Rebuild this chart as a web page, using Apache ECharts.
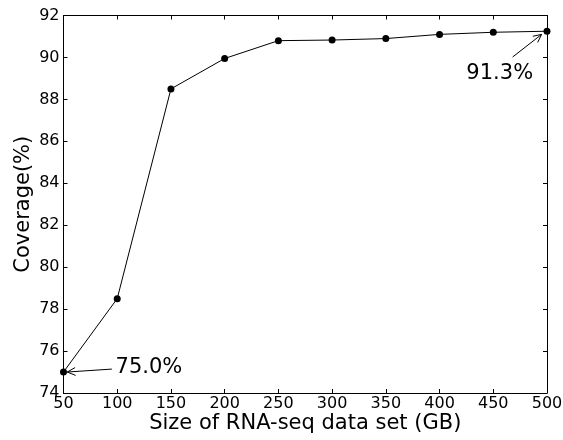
<!DOCTYPE html>
<html>
<head>
<meta charset="utf-8">
<script src="https://cdn.jsdelivr.net/npm/echarts@6/dist/echarts.min.js"></script>
<style>
  html, body { margin: 0; padding: 0; background: #fff; }
  #chart { width: 563px; height: 440px; }
</style>
</head>
<body>
<div id="chart"></div>
<script>
// data
const sizes = [50, 100, 150, 200, 250, 300, 350, 400, 450, 500];
const coverage = [75.0, 78.5, 88.5, 89.95, 90.8, 90.83, 90.9, 91.1, 91.2, 91.25];
const notes = [
  { text: '75.0%', at: [98.5, 75.2], from: [95, 75.14], to: [53.5, 75.0], align: 'left' },
  { text: '91.3%', at: [456, 89.25], from: [468, 90.02], to: [495, 91.1], align: 'center' }
];

const font = 'DejaVu Sans';
const tickLen = 4;

const chart = echarts.init(document.getElementById('chart'));

const axisBase = {
  type: 'value',
  axisLine: { show: true, lineStyle: { color: '#000', width: 1 } },
  axisTick: { show: true, inside: true, length: tickLen, lineStyle: { color: '#000' } },
  splitLine: { show: false }
};

let option = {
  animation: false,
  grid: { left: 63.5, right: 16, top: 15.5, bottom: 47, containLabel: false, outerBoundsMode: 'none' },
  xAxis: [
    Object.assign({}, axisBase, {
      min: 50, max: 500, interval: 50,
      position: 'bottom',
      name: 'Size of RNA-seq data set (GB)',
      nameLocation: 'middle',
      nameGap: 20,
      nameMoveOverlap: false,
      nameTextStyle: { fontFamily: font, fontSize: 21, color: '#000' },
      axisLabel: { fontFamily: font, fontSize: 16, color: '#000', margin: 3 }
    }),
    Object.assign({}, axisBase, {
      min: 50, max: 500, interval: 50,
      position: 'top',
      axisLabel: { show: false }
    })
  ],
  yAxis: [
    Object.assign({}, axisBase, {
      min: 74, max: 92, interval: 2,
      position: 'left',
      name: 'Coverage(%)',
      nameLocation: 'middle',
      nameGap: 29,
      nameMoveOverlap: false,
      nameTextStyle: { fontFamily: font, fontSize: 21, color: '#000' },
      axisLabel: { fontFamily: font, fontSize: 16, color: '#000', margin: 4 }
    }),
    Object.assign({}, axisBase, {
      min: 74, max: 92, interval: 2,
      position: 'right',
      axisLabel: { show: false }
    })
  ],
  series: [
    {
      type: 'line',
      data: sizes.map((s, i) => [s, coverage[i]]),
      symbol: 'circle',
      symbolSize: 7,
      lineStyle: { color: '#000', width: 1 },
      itemStyle: { color: '#000' }
    }
  ]
};

chart.setOption(option);

// annotations placed in data space, converted through the chart's scales
const graphics = [];
notes.forEach(n => {
  const p = chart.convertToPixel({ gridIndex: 0 }, n.at);
  const a = chart.convertToPixel({ gridIndex: 0 }, n.from);
  const b = chart.convertToPixel({ gridIndex: 0 }, n.to);
  graphics.push({
    type: 'text', x: p[0], y: p[1],
    style: { text: n.text, font: '21px "DejaVu Sans"', fill: '#000', textAlign: n.align, textVerticalAlign: 'middle' }
  });
  graphics.push({
    type: 'line', shape: { x1: a[0], y1: a[1], x2: b[0], y2: b[1] },
    style: { stroke: '#000', lineWidth: 1 }
  });
  const ang = Math.atan2(b[1] - a[1], b[0] - a[0]);
  const hl = 9, hw = 0.45;
  graphics.push({
    type: 'polyline',
    shape: { points: [
      [b[0] - hl * Math.cos(ang - hw), b[1] - hl * Math.sin(ang - hw)],
      [b[0], b[1]],
      [b[0] - hl * Math.cos(ang + hw), b[1] - hl * Math.sin(ang + hw)]
    ] },
    style: { stroke: '#000', lineWidth: 1, fill: null }
  });
});
chart.setOption({ graphic: graphics });
</script>
</body>
</html>
